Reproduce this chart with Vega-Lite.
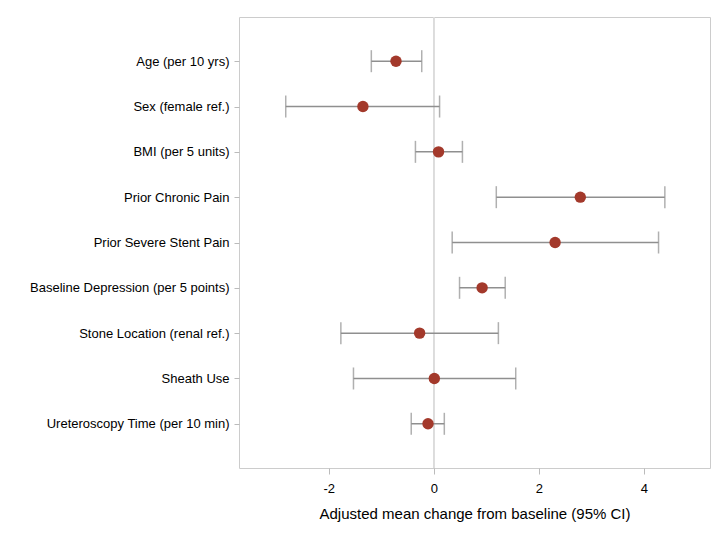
{
  "$schema": "https://vega.github.io/schema/vega-lite/v6.json",
  "width": 471,
  "height": 451,
  "autosize": {"type": "none"},
  "padding": {"left": 239, "top": 17, "right": 3, "bottom": 71},
  "background": "white",
  "config": {
    "view": {"stroke": "#cccccc", "strokeWidth": 1},
    "font": "Liberation Sans"
  },
  "data": {
    "values": [
      {"term": "Age (per 10 yrs)", "est": -0.72, "lo": -1.19, "hi": -0.23},
      {"term": "Sex (female ref.)", "est": -1.35, "lo": -2.82, "hi": 0.11},
      {"term": "BMI (per 5 units)", "est": 0.09, "lo": -0.35, "hi": 0.545},
      {"term": "Prior Chronic Pain", "est": 2.79, "lo": 1.19, "hi": 4.40},
      {"term": "Prior Severe Stent Pain", "est": 2.31, "lo": 0.35, "hi": 4.28},
      {"term": "Baseline Depression (per 5 points)", "est": 0.92, "lo": 0.49, "hi": 1.36},
      {"term": "Stone Location (renal ref.)", "est": -0.27, "lo": -1.77, "hi": 1.23},
      {"term": "Sheath Use", "est": 0.01, "lo": -1.53, "hi": 1.56},
      {"term": "Ureteroscopy Time (per 10 min)", "est": -0.11, "lo": -0.43, "hi": 0.20}
    ]
  },
  "layer": [
    {
      "mark": {"type": "rule", "color": "#dcdcdc", "strokeWidth": 1},
      "encoding": {
        "x": {
          "datum": 0,
          "type": "quantitative",
          "scale": {"domain": [-3.71, 5.26], "nice": false, "zero": false},
          "axis": {
            "values": [-2, 0, 2, 4],
            "labelExpr": "'' + datum.value",
            "title": "Adjusted mean change from baseline (95% CI)",
            "titleFontSize": 15,
            "titleFontWeight": "normal",
            "titleColor": "black",
            "titlePadding": 11,
            "labelFontSize": 13,
            "labelColor": "black",
            "labelPadding": 8,
            "tickColor": "#bbbbbb",
            "tickSize": 6,
            "domain": false,
            "grid": false
          }
        }
      }
    },
    {
      "mark": {"type": "rule", "color": "#8f8f8f", "strokeWidth": 1.5},
      "encoding": {
        "y": {
          "field": "term",
          "type": "nominal",
          "sort": null,
          "scale": {"type": "point", "padding": 0.975},
          "axis": {
            "title": null,
            "labelFontSize": 13,
            "labelLimit": 400,
            "labelColor": "black",
            "labelPadding": 5,
            "tickColor": "#bbbbbb",
            "tickSize": 5,
            "domain": false,
            "grid": false
          }
        },
        "x": {"field": "lo", "type": "quantitative"},
        "x2": {"field": "hi"}
      }
    },
    {
      "mark": {"type": "tick", "color": "#8f8f8f", "thickness": 1.5, "size": 22, "orient": "vertical"},
      "encoding": {
        "y": {"field": "term", "type": "nominal", "sort": null},
        "x": {"field": "lo", "type": "quantitative"}
      }
    },
    {
      "mark": {"type": "tick", "color": "#8f8f8f", "thickness": 1.5, "size": 22, "orient": "vertical"},
      "encoding": {
        "y": {"field": "term", "type": "nominal", "sort": null},
        "x": {"field": "hi", "type": "quantitative"}
      }
    },
    {
      "mark": {"type": "circle", "color": "#a3392b", "opacity": 1, "size": 130},
      "encoding": {
        "y": {"field": "term", "type": "nominal", "sort": null},
        "x": {"field": "est", "type": "quantitative"}
      }
    }
  ]
}
